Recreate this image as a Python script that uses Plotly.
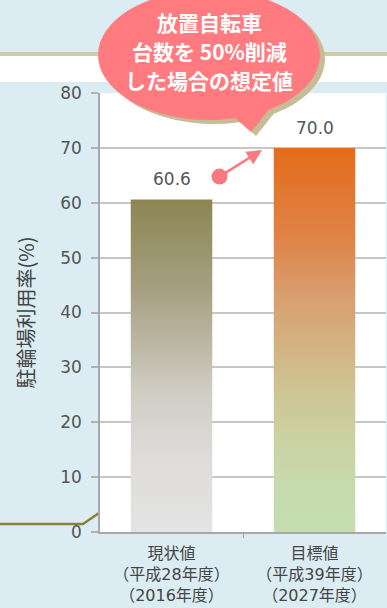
import plotly.graph_objects as go

# ---- data ----
categories = ["現状値<br>（平成28年度）<br>（2016年度）", "目標値<br>（平成39年度）<br>（2027年度）"]
values = [60.6, 70.0]
y_ticks = [0, 10, 20, 30, 40, 50, 60, 70, 80]
y_title = "駐輪場利用率(%)"
callout_lines = ["放置自転車", "台数を 50%削減", "した場合の想定値"]

gradients = [
    [[0, "#e4e4e4"], [0.23, "#dddcda"], [0.43, "#cfccc2"], [0.58, "#bab5a0"], [0.73, "#a6a080"], [1, "#8c8552"]],
    [[0, "#c4ddb0"], [0.11, "#c6dbad"], [0.24, "#cbd2a2"], [0.37, "#cfc493"], [0.5, "#d4b080"],
     [0.63, "#d99c6c"], [0.76, "#df8448"], [1, "#e46c1a"]],
]

W, H = 387, 608
L, R, T, B = 100, 1, 93, 76
PW, PH = W - L - R, H - T - B


def px(x):
    return (x - L) / PW


def py(y):
    return (H - B - y) / PH


BAR_W = 0.57
fig = go.Figure()
for i, (v, cs) in enumerate(zip(values, gradients)):
    x0, x1 = i - BAR_W / 2, i + BAR_W / 2
    fig.add_trace(go.Scatter(
        x=[x0, x1, x1, x0, x0], y=[0, 0, v, v, 0],
        mode="lines", fill="toself", line=dict(width=0),
        fillgradient=dict(type="vertical", colorscale=cs, start=0, stop=v),
        hoverinfo="skip", showlegend=False,
    ))

annotations = []
for i, v in enumerate(values):
    annotations.append(dict(x=i, y=v, xref="x", yref="y", text=f"{v:.1f}", showarrow=False,
                            yanchor="bottom", yshift=8,
                            font=dict(size=17, color="#555555", family="DejaVu Sans, Noto Sans CJK JP")))

# arrow from current value towards target
annotations.append(dict(x=0.633, y=69.6, ax=0.325, ay=64.6, xref="x", yref="y", axref="x", ayref="y",
                        text="", showarrow=True, arrowhead=2, arrowsize=1.2, arrowwidth=2.5,
                        arrowside="end+start", startarrowhead=6, startarrowsize=1.6,
                        arrowcolor="#f77a82"))

# callout text, one annotation per line
for line, yc in zip(callout_lines, [22, 51, 80]):
    annotations.append(dict(x=px(209), y=py(yc), xref="paper", yref="paper", text=line,
                            showarrow=False, xanchor="center", yanchor="middle", align="center",
                            borderpad=0,
                            font=dict(size=21, color="white", family="Noto Sans CJK JP", weight="bold")))

shapes = [
    # decorative background bands
    dict(type="rect", xref="paper", yref="paper", x0=px(0), x1=px(W), y0=py(56), y1=py(52),
         fillcolor="#d3caa6", line=dict(width=0), layer="below"),
    dict(type="rect", xref="paper", yref="paper", x0=px(0), x1=px(W), y0=py(82), y1=py(56),
         fillcolor="white", line=dict(width=0), layer="below"),
    dict(type="path", xref="paper", yref="paper",
         path=f"M {px(0)} {py(524)} L {px(83)} {py(524)} L {px(99)} {py(513)}",
         line=dict(color="#8c7f3c", width=2.5), layer="below"),
    # callout shadow
    dict(type="circle", xref="paper", yref="paper", x0=px(103), x1=px(325), y0=py(124), y1=py(-6),
         fillcolor="#c6bd96", line=dict(width=0), layer="above"),
    dict(type="path", xref="paper", yref="paper",
         path=f"M {px(232)} {py(114)} L {px(256)} {py(136)} L {px(280)} {py(106)} Z",
         fillcolor="#c6bd96", line=dict(width=0), layer="above"),
    # callout
    dict(type="circle", xref="paper", yref="paper", x0=px(98), x1=px(320), y0=py(120), y1=py(-10),
         fillcolor="#ff7b80", line=dict(width=0), layer="above"),
    dict(type="path", xref="paper", yref="paper",
         path=f"M {px(226)} {py(110)} L {px(251)} {py(132)} L {px(275)} {py(102)} Z",
         fillcolor="#ff7b80", line=dict(width=0), layer="above"),
]

fig.update_layout(
    width=W, height=H,
    margin=dict(l=L, r=R, t=T, b=B, pad=0),
    paper_bgcolor="#dbedf3", plot_bgcolor="white",
    showlegend=False,
    annotations=annotations, shapes=shapes,
    font=dict(family="DejaVu Sans, Noto Sans CJK JP", color="#555555"),
)
fig.update_xaxes(
    range=[-0.5, 1.5], tickmode="array", tickvals=[0, 1], ticktext=categories,
    ticks="", showgrid=False, zeroline=False, showline=True, linecolor="#a8a8a8", linewidth=1.5,
    ticklabelstandoff=6,
    tickfont=dict(size=16, color="#444444", family="DejaVu Sans, Noto Sans CJK JP"),
    minor=dict(tickmode="array", tickvals=[0.5], ticks="outside", ticklen=4, tickcolor="#999999"),
    fixedrange=True,
)
fig.update_yaxes(
    range=[0, 80], tickmode="array", tickvals=y_ticks,
    showgrid=True, gridcolor="#c6c6c6", gridwidth=1.5,
    zeroline=False, showline=True, linecolor="#a8a8a8", linewidth=1.5,
    ticks="outside", ticklen=7, tickcolor="#b0b0b0", tickwidth=1.5, ticklabelstandoff=6,
    tickfont=dict(size=17, color="#555555", family="DejaVu Sans"),
    title=dict(text=y_title, standoff=20, font=dict(size=20, color="#444444", family="Noto Sans CJK JP")),
    fixedrange=True,
)

fig.write_html("out.html")
